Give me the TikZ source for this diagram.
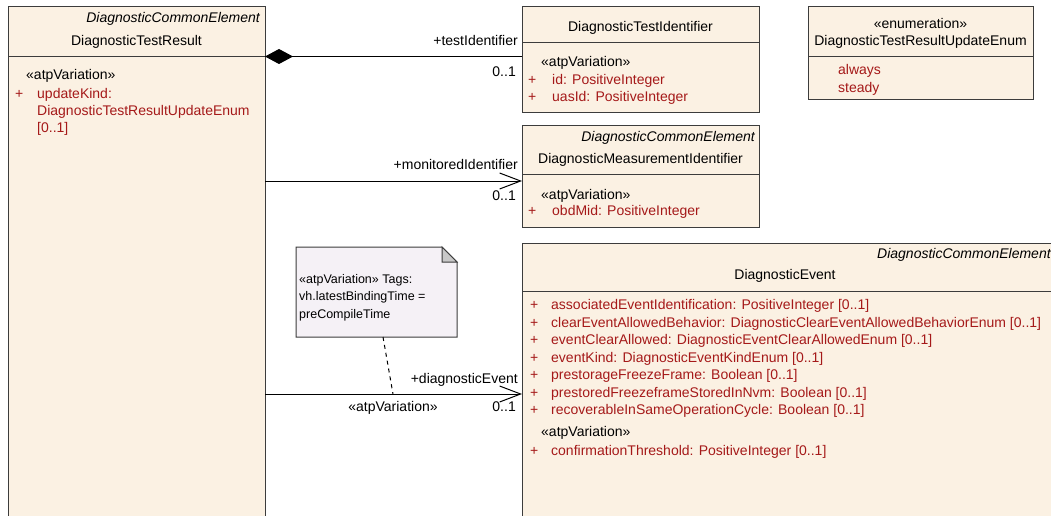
\documentclass[tikz,border=0pt]{standalone}
\usepackage{fontspec}
\setmainfont{Liberation Sans}
\usetikzlibrary{arrows.meta}
\definecolor{boxfill}{RGB}{251,241,227}
\definecolor{boxline}{RGB}{60,60,60}
\definecolor{attr}{RGB}{165,25,25}
\definecolor{notefill}{RGB}{245,241,246}
\definecolor{foldfill}{RGB}{200,200,200}
\begin{document}
\begin{tikzpicture}[x=1pt,y=-1pt,
  font=\fontsize{14}{17.5}\selectfont,
  clsbox/.style={draw=boxline, fill=boxfill, line width=1pt, anchor=north west, inner sep=0pt, outer sep=0pt},
  sepline/.style={draw=boxline, line width=1pt},
  txtl/.style={inner sep=0pt, anchor=base west, text=black},
  txtr/.style={inner sep=0pt, anchor=base east, text=black},
  txtc/.style={inner sep=0pt, anchor=base, text=black},
  ittxt/.style={inner sep=0pt, anchor=base east, text=black, font=\fontsize{14}{17.5}\selectfont\itshape},
  attrtxt/.style={inner sep=0pt, anchor=base west, text=attr},
  conn/.style={draw=black, line width=1pt},
  openarr/.style={-{Straight Barb[length=21pt,width=16pt,line width=1pt]}},
  comparr/.style={{Diamond[length=28pt,width=15pt]}-},
  notetxt/.style={inner sep=0pt, anchor=base west, text=black, font=\fontsize{12.5}{17}\selectfont}
]
\useasboundingbox (0,0) rectangle (1051,516);
\clip (0,0) rectangle (1051,516);
\fill[white] (0,0) rectangle (1051,516);

% DiagnosticTestResult
\node[clsbox, minimum width=257pt, minimum height=540pt] (tres) at (8,6.5) {};
\draw[sepline] (8,56.5) -- (265,56.5);
\node[ittxt] (tresst) at (260,23) {DiagnosticCommonElement};
\node[txtc] (tresn) at (136.5,46) {DiagnosticTestResult};
\node[txtl] (tresv) at (26,80) {«atpVariation»};
\node[attrtxt] (tresp) at (15,98.5) {+};
\node[attrtxt] (tresa1) at (37,98.5) {updateKind:};
\node[attrtxt] (tresa2) at (37,115.5) {DiagnosticTestResultUpdateEnum};
\node[attrtxt] (tresa3) at (37,132.5) {[0..1]};

% DiagnosticTestIdentifier
\node[clsbox, minimum width=237pt, minimum height=106pt] (tid) at (522,7) {};
\draw[sepline] (522,43) -- (759,43);
\node[txtc] (tidn) at (640.5,32) {DiagnosticTestIdentifier};
\node[txtl] (tidv) at (541,67) {«atpVariation»};
\node[attrtxt] (tidp1) at (528,85) {+};
\node[attrtxt] (tida1) at (552,85) {id: PositiveInteger};
\node[attrtxt] (tidp2) at (528,102) {+};
\node[attrtxt] (tida2) at (552,102) {uasId: PositiveInteger};

% Enumeration
\node[clsbox, minimum width=225pt, minimum height=93pt] (enum) at (808,7) {};
\draw[sepline] (808,57) -- (1033,57);
\node[txtc] (enums) at (920.5,29) {«enumeration»};
\node[txtc] (enumn) at (920.5,46) {DiagnosticTestResultUpdateEnum};
\node[attrtxt] (enuma1) at (838,75) {always};
\node[attrtxt] (enuma2) at (838,93) {steady};

% DiagnosticMeasurementIdentifier
\node[clsbox, minimum width=237pt, minimum height=102pt] (mid) at (522,125) {};
\draw[sepline] (522,174) -- (759,174);
\node[ittxt] (midst) at (755,141) {DiagnosticCommonElement};
\node[txtc] (midn) at (640.5,163) {DiagnosticMeasurementIdentifier};
\node[txtl] (midv) at (541,199) {«atpVariation»};
\node[attrtxt] (midp) at (528,215) {+};
\node[attrtxt] (mida) at (552,215) {obdMid: PositiveInteger};

% DiagnosticEvent
\node[clsbox, minimum width=580pt, minimum height=320pt] (ev) at (522,243) {};
\draw[sepline] (522,291.5) -- (1102,291.5);
\node[ittxt,anchor=base west] (evst) at (877,258) {DiagnosticCommonElement};
\node[txtc] (evn) at (785,279) {DiagnosticEvent};
\foreach \t [count=\i] in {associatedEventIdentification: PositiveInteger [0..1],
  clearEventAllowedBehavior: DiagnosticClearEventAllowedBehaviorEnum [0..1],
  eventClearAllowed: DiagnosticEventClearAllowedEnum [0..1],
  eventKind: DiagnosticEventKindEnum [0..1],
  prestorageFreezeFrame: Boolean [0..1],
  prestoredFreezeframeStoredInNvm: Boolean [0..1],
  recoverableInSameOperationCycle: Boolean [0..1]}{
  \node[attrtxt] (evp\i) at (530,292+17.5*\i) {+};
  \node[attrtxt] (eva\i) at (551,292+17.5*\i) {\t};
}
\node[txtl] (evv) at (541,436) {«atpVariation»};
\node[attrtxt] (evp8) at (530,455) {+};
\node[attrtxt] (eva8) at (551,455) {confirmationThreshold: PositiveInteger [0..1]};

% Note
\node[inner sep=0pt, outer sep=0pt, anchor=north west, minimum width=161pt, minimum height=90pt] (note) at (296,247) {};
\draw[draw=boxline, fill=notefill, line width=1pt] (note.north west) -- (442,247) -- (457,262) -- (note.south east) -- (note.south west) -- cycle;
\draw[draw=boxline, fill=foldfill, line width=1pt] (442,247) -- (442,262) -- (457,262) -- cycle;
\node[notetxt] (nt1) at (299,283) {«atpVariation» Tags:};
\node[notetxt] (nt2) at (299,300.5) {vh.latestBindingTime =};
\node[notetxt] (nt3) at (299,318) {preCompileTime};

% Connectors
\draw[conn, comparr] (tres.east |- 0,56.5) -- (tid.west |- 0,56.5);
\node[txtr] (l1) at (518,46) {+testIdentifier};
\node[txtr] (m1) at (516,77) {0..1};

\draw[conn, openarr] (tres.east |- 0,181) -- (mid.west |- 0,181);
\node[txtr] (l2) at (518,169) {+monitoredIdentifier};
\node[txtr] (m2) at (516,200) {0..1};

\draw[conn, openarr] (tres.east |- 0,394) -- (ev.west |- 0,394);
\coordinate (nc) at (393,394);
\node[txtr] (l3) at (518,383) {+diagnosticEvent};
\node[txtc] (s3) at (393,411.5) {«atpVariation»};
\node[txtr] (m3) at (516,411.5) {0..1};
\draw[draw=black, line width=1pt, dash pattern=on 4pt off 4pt] (note.south -| 383,0) -- (nc);
\end{tikzpicture}
\end{document}
